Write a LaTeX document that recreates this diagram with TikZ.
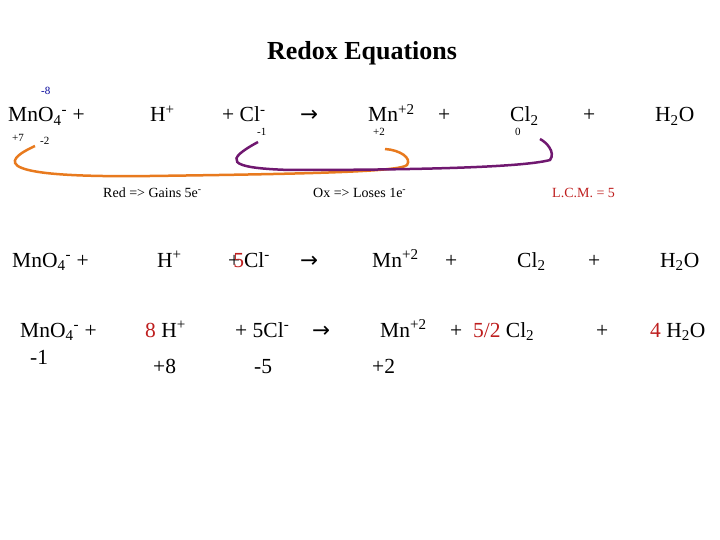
\documentclass[tikz,border=0pt]{standalone}
\usepackage{fontspec}
\setmainfont{Liberation Serif}
\newfontfamily\arr{DejaVu Sans}
\newcommand{\up}[1]{\textsuperscript{#1}}
\newcommand{\dn}[1]{\textsubscript{#1}}
\begin{document}
\begin{tikzpicture}[x=1pt,y=-1pt,
 t/.style={anchor=base west,inner sep=0pt,font=\fontsize{21.5}{23}\selectfont},
 s/.style={anchor=base west,inner sep=0pt,font=\fontsize{11}{12}\selectfont},
 m/.style={anchor=base west,inner sep=0pt,font=\fontsize{14}{16}\selectfont}]
\useasboundingbox (0,0) rectangle (720,540);
\definecolor{org}{RGB}{232,122,30}\definecolor{pur}{RGB}{112,24,112}\definecolor{rd}{RGB}{190,30,30}
\node[anchor=base,font=\bfseries\fontsize{26}{28}\selectfont] (title) at (362,60) {Redox Equations};
% row 1
\node[t] (a1) at (8,122) {MnO\dn{4}\up{-} +};
\node[t] (b1) at (150,122) {H\up{+}};
\node[t] (c1) at (222,122) {+ Cl\up{-}};
\node[t] (d1) at (300,122) {\arr →};
\node[t] (e1) at (368,122) {Mn\up{+2}};
\node[t] (f1) at (438,122) {+};
\node[t] (g1) at (510,122) {Cl\dn{2}};
\node[t] (h1) at (583,122) {+};
\node[t] (i1) at (655,122) {H\dn{2}O};
\node[s,text=blue!60!black] (n1) at (41,95) {-8};
\node[s] (n2) at (12,142) {+7};
\node[s] (n3) at (40,145) {-2};
\node[s] (n4) at (257,136) {-1};
\node[s] (n5) at (373,136) {+2};
\node[s] (n6) at (515,136) {0};
\coordinate (o1) at (35,146); \coordinate (o2) at (385,149);
\coordinate (p1) at (258,142); \coordinate (p2) at (540,139);
\draw[org,line width=2.5pt] (o1) .. controls (0,162) and (-5,178) .. (150,176) .. controls (300,174) and (400,172) .. (407,165) .. controls (412,158) and (400,150) .. (o2);
\draw[pur,line width=2.5pt] (p1) .. controls (225,160) and (225,168) .. (290,170) .. controls (400,170) and (520,168) .. (550,160) .. controls (556,152) and (546,142) .. (p2);
\node[m] (r1) at (103,198) {Red => Gains 5e\up{-}};
\node[m] (r2) at (313,198) {Ox => Loses 1e\up{-}};
\node[m,text=rd] (r3) at (552,198) {L.C.M. = 5};
% row 2
\node[t] (a2) at (12,267) {MnO\dn{4}\up{-} +};
\node[t] (b2) at (157,267) {H\up{+}};
\node[t] (c2) at (228,267) {+\kern-7pt\textcolor{rd}{5}Cl\up{-}};
\node[t] (d2) at (300,267) {\arr →};
\node[t] (e2) at (372,267) {Mn\up{+2}};
\node[t] (f2) at (445,267) {+};
\node[t] (g2) at (517,267) {Cl\dn{2}};
\node[t] (h2) at (588,267) {+};
\node[t] (i2) at (660,267) {H\dn{2}O};
% row 3
\node[t] (a3) at (20,337) {MnO\dn{4}\up{-} +};
\node[t] (b3) at (145,337) {\textcolor{rd}{8} H\up{+}};
\node[t] (c3) at (235,337) {+ 5Cl\up{-}};
\node[t] (d3) at (312,337) {\arr →};
\node[t] (e3) at (380,337) {Mn\up{+2}};
\node[t] (f3) at (450,337) {+\ \ \textcolor{rd}{5/2} Cl\dn{2}};
\node[t] (h3) at (596,337) {+};
\node[t] (i3) at (650,337) {\textcolor{rd}{4} H\dn{2}O};
% row 4
\node[t] (a4) at (30,364) {-1};
\node[t] (b4) at (153,373) {+8};
\node[t] (c4) at (254,373) {-5};
\node[t] (e4) at (372,373) {+2};
\end{tikzpicture}
\end{document}
